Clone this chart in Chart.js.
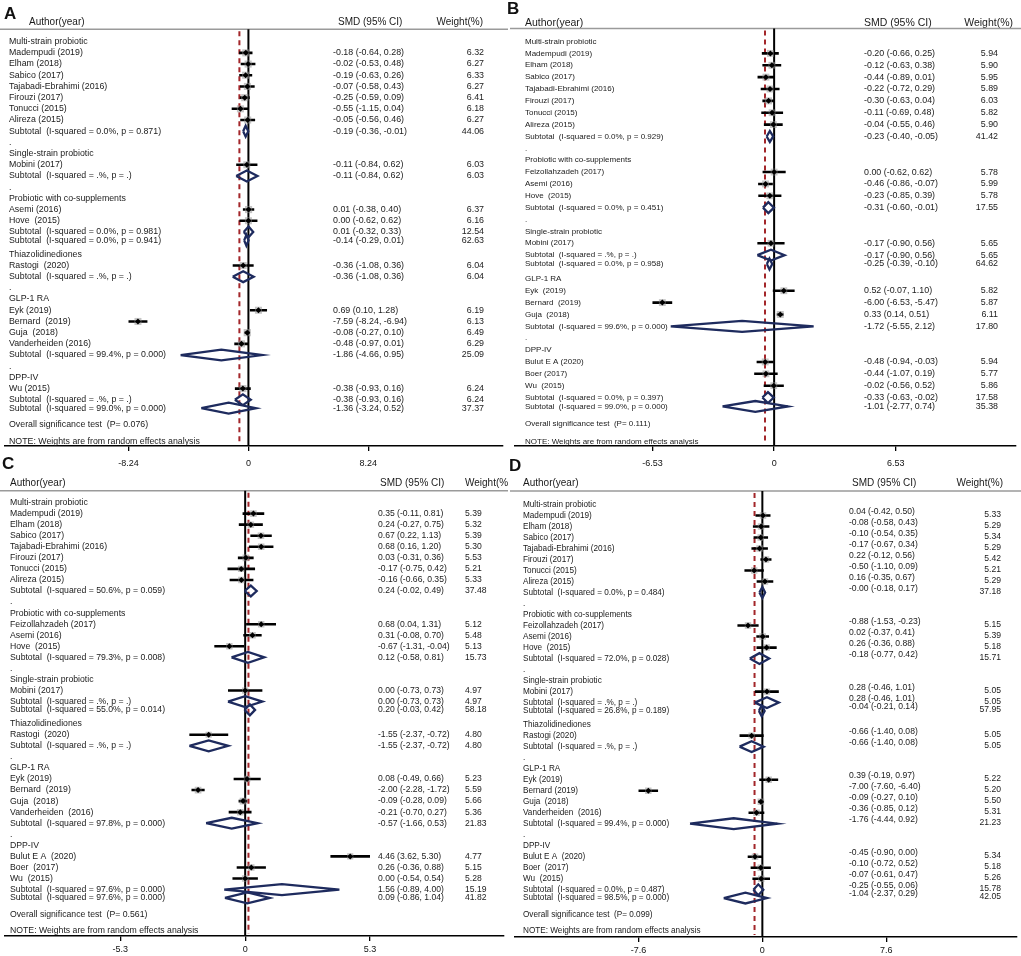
<!DOCTYPE html>
<html><head><meta charset="utf-8">
<script src="https://cdn.jsdelivr.net/npm/chart.js@4.4.1/dist/chart.umd.min.js"></script>
<style>
html,body{margin:0;padding:0;background:#fff;}
body{width:1021px;height:956px;position:relative;overflow:hidden;font-family:"Liberation Sans",Arial,sans-serif;}
canvas{position:absolute;}
.lt{position:absolute;font:bold 17px "Liberation Sans",Arial,sans-serif;line-height:17px;color:#111;z-index:5;}
</style></head><body>
<canvas id="cA" width="508" height="477" style="left:0px;top:0px"></canvas>
<canvas id="cB" width="511" height="477" style="left:510px;top:0px"></canvas>
<canvas id="cC" width="508" height="479" style="left:0px;top:477px"></canvas>
<canvas id="cD" width="511" height="479" style="left:510px;top:477px"></canvas>
<div class="lt" style="left:4px;top:5px">A</div>
<div class="lt" style="left:507px;top:0px">B</div>
<div class="lt" style="left:2px;top:455px">C</div>
<div class="lt" style="left:509px;top:457px">D</div>
<script>
// ---------------- DATA ----------------
// Panel A
const labelsA = ["Multi-strain probiotic","Madempudi (2019)","Elham (2018)","Sabico (2017)","Tajabadi-Ebrahimi (2016)","Firouzi (2017)","Tonucci (2015)","Alireza (2015)","Subtotal  (I-squared = 0.0%, p = 0.871)",".","Single-strain probiotic","Mobini (2017)","Subtotal  (I-squared = .%, p = .)",".","Probiotic with co-supplements","Asemi (2016)","Hove  (2015)","Subtotal  (I-squared = 0.0%, p = 0.981)","Subtotal  (I-squared = 0.0%, p = 0.941)","Thiazolidinediones","Rastogi  (2020)","Subtotal  (I-squared = .%, p = .)",".","GLP-1 RA","Eyk (2019)","Bernard  (2019)","Guja  (2018)","Vanderheiden (2016)","Subtotal  (I-squared = 99.4%, p = 0.000)",".","DPP-IV","Wu (2015)","Subtotal  (I-squared = .%, p = .)","Subtotal  (I-squared = 99.0%, p = 0.000)","Overall significance test  (P= 0.076)","NOTE: Weights are from random effects analysis"];
const smdA = [null,-0.18,-0.02,-0.19,-0.07,-0.25,-0.55,-0.05,-0.19,null,null,-0.11,-0.11,null,null,0.01,0.00,0.01,-0.14,null,-0.36,-0.36,null,null,0.69,-7.59,-0.08,-0.48,-1.86,null,null,-0.38,-0.38,-1.36,null,null];
const loA  = [null,-0.64,-0.53,-0.63,-0.58,-0.59,-1.15,-0.56,-0.36,null,null,-0.84,-0.84,null,null,-0.38,-0.62,-0.32,-0.29,null,-1.08,-1.08,null,null,0.10,-8.24,-0.27,-0.97,-4.66,null,null,-0.93,-0.93,-3.24,null,null];
const hiA  = [null,0.28,0.48,0.26,0.43,0.09,0.04,0.46,-0.01,null,null,0.62,0.62,null,null,0.40,0.62,0.33,0.01,null,0.36,0.36,null,null,1.28,-6.94,0.10,0.01,0.95,null,null,0.16,0.16,0.52,null,null];
const wtA  = [null,6.32,6.27,6.33,6.27,6.41,6.18,6.27,44.06,null,null,6.03,6.03,null,null,6.37,6.16,12.54,62.63,null,6.04,6.04,null,null,6.19,6.13,6.49,6.29,25.09,null,null,6.24,6.24,37.37,null,null];
const ticksA = [-8.24, 0, 8.24];
const overallA = -0.62;

// Panel B
const labelsB = ["Multi-strain probiotic","Madempudi (2019)","Elham (2018)","Sabico (2017)","Tajabadi-Ebrahimi (2016)","Firouzi (2017)","Tonucci (2015)","Alireza (2015)","Subtotal  (I-squared = 0.0%, p = 0.929)",".","Probiotic with co-supplements","Feizollahzadeh (2017)","Asemi (2016)","Hove  (2015)","Subtotal  (I-squared = 0.0%, p = 0.451)",".","Single-strain probiotic","Mobini (2017)","Subtotal  (I-squared = .%, p = .)","Subtotal  (I-squared = 0.0%, p = 0.958)","GLP-1 RA","Eyk  (2019)","Bernard  (2019)","Guja  (2018)","Subtotal  (I-squared = 99.6%, p = 0.000)",".","DPP-IV","Bulut E A (2020)","Boer (2017)","Wu  (2015)","Subtotal  (I-squared = 0.0%, p = 0.397)","Subtotal  (I-squared = 99.0%, p = 0.000)","Overall significance test  (P= 0.111)","NOTE: Weights are from random effects analysis"];
const smdB = [null,-0.20,-0.12,-0.44,-0.22,-0.30,-0.11,-0.04,-0.23,null,null,0.00,-0.46,-0.23,-0.31,null,null,-0.17,-0.17,-0.25,null,0.52,-6.00,0.33,-1.72,null,null,-0.48,-0.44,-0.02,-0.33,-1.01,null,null];
const loB  = [null,-0.66,-0.63,-0.89,-0.72,-0.63,-0.69,-0.55,-0.40,null,null,-0.62,-0.86,-0.85,-0.60,null,null,-0.90,-0.90,-0.39,null,-0.07,-6.53,0.14,-5.55,null,null,-0.94,-1.07,-0.56,-0.63,-2.77,null,null];
const hiB  = [null,0.25,0.38,0.01,0.29,0.04,0.48,0.46,-0.05,null,null,0.62,-0.07,0.39,-0.01,null,null,0.56,0.56,-0.10,null,1.10,-5.47,0.51,2.12,null,null,-0.03,0.19,0.52,-0.02,0.74,null,null];
const wtB  = [null,5.94,5.90,5.95,5.89,6.03,5.82,5.90,41.42,null,null,5.78,5.99,5.78,17.55,null,null,5.65,5.65,64.62,null,5.82,5.87,6.11,17.80,null,null,5.94,5.77,5.86,17.58,35.38,null,null];
const ticksB = [-6.53, 0, 6.53];
const overallB = -0.49;

// Panel C
const labelsC = ["Multi-strain probiotic","Madempudi (2019)","Elham (2018)","Sabico (2017)","Tajabadi-Ebrahimi (2016)","Firouzi (2017)","Tonucci (2015)","Alireza (2015)","Subtotal  (I-squared = 50.6%, p = 0.059)",".","Probiotic with co-supplements","Feizollahzadeh (2017)","Asemi (2016)","Hove  (2015)","Subtotal  (I-squared = 79.3%, p = 0.008)",".","Single-strain probiotic","Mobini (2017)","Subtotal  (I-squared = .%, p = .)","Subtotal  (I-squared = 55.0%, p = 0.014)","Thiazolidinediones","Rastogi  (2020)","Subtotal  (I-squared = .%, p = .)",".","GLP-1 RA","Eyk (2019)","Bernard  (2019)","Guja  (2018)","Vanderheiden  (2016)","Subtotal  (I-squared = 97.8%, p = 0.000)",".","DPP-IV","Bulut E A  (2020)","Boer  (2017)","Wu  (2015)","Subtotal  (I-squared = 97.6%, p = 0.000)","Subtotal  (I-squared = 97.6%, p = 0.000)","Overall significance test  (P= 0.561)","NOTE: Weights are from random effects analysis"];
const smdC = [null,0.35,0.24,0.67,0.68,0.03,-0.17,-0.16,0.24,null,null,0.68,0.31,-0.67,0.12,null,null,0.00,0.00,0.20,null,-1.55,-1.55,null,null,0.08,-2.00,-0.09,-0.21,-0.57,null,null,4.46,0.26,0.00,1.56,0.09,null,null];
const loC  = [null,-0.11,-0.27,0.22,0.16,-0.31,-0.75,-0.66,-0.02,null,null,0.04,-0.08,-1.31,-0.58,null,null,-0.73,-0.73,-0.03,null,-2.37,-2.37,null,null,-0.49,-2.28,-0.28,-0.70,-1.66,null,null,3.62,-0.36,-0.54,-0.89,-0.86,null,null];
const hiC  = [null,0.81,0.75,1.13,1.20,0.36,0.42,0.35,0.49,null,null,1.31,0.70,-0.04,0.81,null,null,0.73,0.73,0.42,null,-0.72,-0.72,null,null,0.66,-1.72,0.09,0.27,0.53,null,null,5.30,0.88,0.54,4.00,1.04,null,null];
const wtC  = [null,5.39,5.32,5.39,5.30,5.53,5.21,5.33,37.48,null,null,5.12,5.48,5.13,15.73,null,null,4.97,4.97,58.18,null,4.80,4.80,null,null,5.23,5.59,5.66,5.36,21.83,null,null,4.77,5.15,5.28,15.19,41.82,null,null];
const ticksC = [-5.3, 0, 5.3];
const overallC = 0.14;

// Panel D
const labelsD = ["Multi-strain probiotic","Madempudi (2019)","Elham (2018)","Sabico (2017)","Tajabadi-Ebrahimi (2016)","Firouzi (2017)","Tonucci (2015)","Alireza (2015)","Subtotal  (I-squared = 0.0%, p = 0.484)",".","Probiotic with co-supplements","Feizollahzadeh (2017)","Asemi (2016)","Hove  (2015)","Subtotal  (I-squared = 72.0%, p = 0.028)",".","Single-strain probiotic","Mobini (2017)","Subtotal  (I-squared = .%, p = .)","Subtotal  (I-squared = 26.8%, p = 0.189)","Thiazolidinediones","Rastogi (2020)","Subtotal  (I-squared = .%, p = .)",".","GLP-1 RA","Eyk (2019)","Bernard (2019)","Guja  (2018)","Vanderheiden  (2016)","Subtotal  (I-squared = 99.4%, p = 0.000)",".","DPP-IV","Bulut E A  (2020)","Boer  (2017)","Wu  (2015)","Subtotal  (I-squared = 0.0%, p = 0.487)","Subtotal  (I-squared = 98.5%, p = 0.000)","Overall significance test  (P= 0.099)","NOTE: Weights are from random effects analysis"];
const smdD = [null,0.04,-0.08,-0.10,-0.17,0.22,-0.50,0.16,-0.00,null,null,-0.88,0.02,0.26,-0.18,null,null,0.28,0.28,-0.04,null,-0.66,-0.66,null,null,0.39,-7.00,-0.09,-0.36,-1.76,null,null,-0.45,-0.10,-0.07,-0.25,-1.04,null,null];
const loD  = [null,-0.42,-0.58,-0.54,-0.67,-0.12,-1.10,-0.35,-0.18,null,null,-1.53,-0.37,-0.36,-0.77,null,null,-0.46,-0.46,-0.21,null,-1.40,-1.40,null,null,-0.19,-7.60,-0.27,-0.85,-4.44,null,null,-0.90,-0.72,-0.61,-0.55,-2.37,null,null];
const hiD  = [null,0.50,0.43,0.35,0.34,0.56,0.09,0.67,0.17,null,null,-0.23,0.41,0.88,0.42,null,null,1.01,1.01,0.14,null,0.08,0.08,null,null,0.97,-6.40,0.10,0.12,0.92,null,null,0.00,0.52,0.47,0.06,0.29,null,null];
const wtD  = [null,5.33,5.29,5.34,5.29,5.42,5.21,5.29,37.18,null,null,5.15,5.39,5.18,15.71,null,null,5.05,5.05,57.95,null,5.05,5.05,null,null,5.22,5.20,5.50,5.31,21.23,null,null,5.34,5.18,5.26,15.78,42.05,null,null];
const ticksD = [-7.6, 0, 7.6];
const overallD = -0.48;

// ---------------- RENDERING ----------------
const FONT = '"Liberation Sans", Arial, sans-serif';
function fmt(v){ const neg = v < 0 || Object.is(v, -0); return (neg ? '-' : '') + Math.abs(v).toFixed(2); }

function makePanel(canvasId, D, L){
  const kinds = D.labels.map((l, i) => {
    if (l === '.') return 'dot';
    if (l.startsWith('Subtotal')) return (i > 0 && D.labels[i-1].startsWith('Subtotal')) ? 'pool' : 'sub';
    if (l.startsWith('Overall')) return 'overall';
    if (l.startsWith('NOTE')) return 'note';
    return D.smd[i] === null ? 'group' : 'study';
  });
  const rows = []; let r = 0;
  kinds.forEach((k, i) => {
    if (i > 0) {
      let s = 1;
      if (k === 'pool') s = 0.75;
      else if (kinds[i-1] === 'pool') s = (k === 'overall') ? 1.5 : 1.25;
      else if (k === 'note') s = 1.5;
      r += s;
    }
    rows.push(r);
  });
  const last = rows[rows.length - 1];
  const step = (L.lastPx - L.firstPx) / last;
  const yMin = -L.firstPx / step, yMax = yMin + L.axisPx / step;
  const xMin = -L.zeroPx / L.ppu, xMax = (L.w - L.zeroPx) / L.ppu;
  const hh = 5.5 / step;

  const ci = [], box = [], pt = [], dia = [];
  kinds.forEach((k, i) => {
    const y = rows[i];
    if (k === 'study') {
      ci.push({x: D.lo[i], y}, {x: D.hi[i], y}, {x: D.hi[i], y: null});
      box.push({x: D.smd[i], y, w: D.wt[i]});
      pt.push({x: D.smd[i], y});
    } else if (k === 'sub' || k === 'pool') {
      dia.push({x: D.lo[i], y}, {x: D.smd[i], y: y - hh}, {x: D.hi[i], y},
               {x: D.smd[i], y: y + hh}, {x: D.lo[i], y}, {x: D.lo[i], y: null});
    }
  });

  const textPlugin = {
    id: 'forestText' + canvasId,
    beforeDatasetsDraw(chart){
      const ctx = chart.ctx, xs = chart.scales.x, ys = chart.scales.y;
      ctx.save();
      ctx.fillStyle = '#1a1a1a';
      ctx.textBaseline = 'middle';
      ctx.font = L.headSize + 'px ' + FONT;
      ctx.textAlign = 'left';
      ctx.fillText('Author(year)', L.headAuthorX, L.headY);
      ctx.fillText('SMD (95% CI)', L.headSmdX, L.headY);
      ctx.textAlign = L.headWtAlign;
      ctx.fillText('Weight(%)', L.headWtX, L.headY);
      ctx.strokeStyle = '#9a9a9a'; ctx.lineWidth = 1.4;
      ctx.beginPath(); ctx.moveTo(0, L.lineY); ctx.lineTo(chart.width, L.lineY); ctx.stroke();
      rows.forEach((rv, i) => {
        const py = ys.getPixelForValue(rv);
        ctx.font = L.labSize + 'px ' + FONT; ctx.textAlign = 'left';
        ctx.fillText(D.labels[i], L.labelX, py);
        if (D.smd[i] !== null) {
          ctx.font = L.numSize + 'px ' + FONT;
          ctx.fillText(fmt(D.smd[i]) + ' (' + fmt(D.lo[i]) + ', ' + fmt(D.hi[i]) + ')', L.smdX, py + L.smdDy);
          ctx.textAlign = L.wtAlign;
          ctx.fillText(D.wt[i].toFixed(2), L.wtX, py + L.wtDy);
        }
      });
      const bottom = chart.chartArea.bottom;
      const x0 = xs.getPixelForValue(0);
      ctx.strokeStyle = '#000'; ctx.lineWidth = 2;
      ctx.beginPath(); ctx.moveTo(x0, L.lineY); ctx.lineTo(x0, bottom); ctx.stroke();
      const xo = xs.getPixelForValue(D.overall);
      ctx.strokeStyle = '#a3262a'; ctx.lineWidth = 2; ctx.setLineDash([5, 4]);
      ctx.beginPath(); ctx.moveTo(xo, L.lineY + 2); ctx.lineTo(xo, bottom - 2); ctx.stroke();
      ctx.restore();
    }
  };

  new Chart(document.getElementById(canvasId), {
    type: 'scatter',
    data: { datasets: [
      { data: pt, pointStyle: 'rectRot', pointRadius: 3, backgroundColor: '#000', borderWidth: 0, order: 0 },
      { data: box, pointStyle: 'rect', pointRadius: c => (c.raw ? 2 * Math.sqrt(c.raw.w) : 4), backgroundColor: 'rgba(150,150,150,0.55)', borderWidth: 0, order: 1 },
      { data: ci, showLine: true, borderColor: '#000', borderWidth: 2.6, borderCapStyle: 'butt', pointRadius: 0, order: 2 },
      { data: dia, showLine: true, borderColor: '#1e2b5e', borderWidth: 2.3, pointRadius: 0, fill: false, order: 3 }
    ]},
    options: {
      responsive: false, animation: false, events: [],
      layout: { padding: 0 },
      plugins: { legend: { display: false }, tooltip: { enabled: false } },
      scales: {
        x: {
          type: 'linear', position: 'bottom', min: xMin, max: xMax,
          afterBuildTicks: s => { s.ticks = D.ticks.map(v => ({ value: v })); },
          afterFit: s => { s.height = L.axisBand; },
          grid: { display: true, drawOnChartArea: false, drawTicks: true, tickLength: 5, color: '#000', lineWidth: 1.3 },
          border: { display: true, color: '#000', width: 1.5 },
          ticks: { font: { family: FONT, size: 9 }, color: '#111', padding: L.tickPad, maxRotation: 0, autoSkip: false, callback: v => String(v) }
        },
        y: { type: 'linear', display: false, reverse: true, min: yMin, max: yMax }
      }
    },
    plugins: [textPlugin]
  });
}

makePanel('cA', {labels: labelsA, smd: smdA, lo: loA, hi: hiA, wt: wtA, ticks: ticksA, overall: overallA},
  {w: 508, zeroPx: 248.3, ppu: 14.85, firstPx: 37, lastPx: 441.7, axisPx: 446, axisBand: 31, tickPad: 7,
   headY: 22.7, lineY: 29.3, labelX: 9, headAuthorX: 29, smdX: 333, headSmdX: 338, wtX: 484, wtAlign: 'right',
   headWtX: 483, headWtAlign: 'right', smdDy: 0, wtDy: 0, labSize: 8.8, numSize: 8.9, headSize: 10});
makePanel('cB', {labels: labelsB, smd: smdB, lo: loB, hi: hiB, wt: wtB, ticks: ticksB, overall: overallB},
  {w: 511, zeroPx: 264.3, ppu: 19.0, firstPx: 37, lastPx: 442, axisPx: 446, axisBand: 31, tickPad: 7,
   headY: 23, lineY: 28.5, labelX: 15, headAuthorX: 15, smdX: 354, headSmdX: 354, wtX: 488, wtAlign: 'right',
   headWtX: 503, headWtAlign: 'right', smdDy: 0, wtDy: 0, labSize: 8.0, numSize: 8.9, headSize: 10.5});
makePanel('cC', {labels: labelsC, smd: smdC, lo: loC, hi: hiC, wt: wtC, ticks: ticksC, overall: overallC},
  {w: 508, zeroPx: 245, ppu: 24.0, firstPx: 21, lastPx: 454, axisPx: 459, axisBand: 20, tickPad: 3,
   headY: 6, lineY: 13.7, labelX: 10, headAuthorX: 10, smdX: 378, headSmdX: 380, wtX: 465, wtAlign: 'left',
   headWtX: 465, headWtAlign: 'left', smdDy: 0, wtDy: 0, labSize: 8.7, numSize: 8.6, headSize: 10});
makePanel('cD', {labels: labelsD, smd: smdD, lo: loD, hi: hiD, wt: wtD, ticks: ticksD, overall: overallD},
  {w: 511, zeroPx: 252.3, ppu: 16.6, firstPx: 23, lastPx: 454, axisPx: 460, axisBand: 19, tickPad: 3,
   headY: 6, lineY: 14, labelX: 13, headAuthorX: 13, smdX: 339, headSmdX: 342, wtX: 491, wtAlign: 'right',
   headWtX: 493, headWtAlign: 'right', smdDy: -4, wtDy: -1, labSize: 8.2, numSize: 8.6, headSize: 10});
</script>
</body></html>
